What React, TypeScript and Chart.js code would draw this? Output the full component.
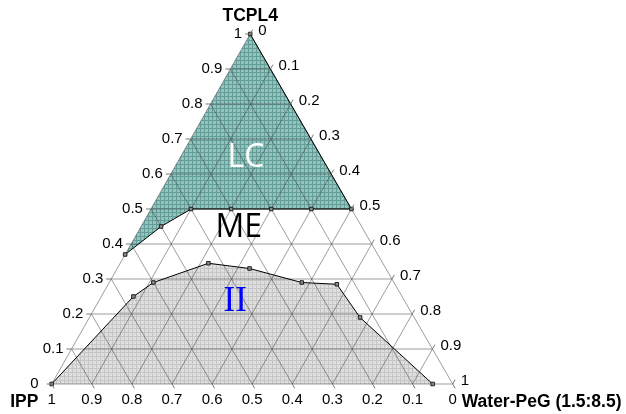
import React, { useEffect, useRef } from "react";
import { Chart, registerables } from "chart.js";
Chart.register(...registerables);

// Axis scale (fractions) and their labels
const SCALE_VALUES = [0, 0.1, 0.2, 0.3, 0.4, 0.5, 0.6, 0.7, 0.8, 0.9, 1];
const SCALE_LABELS = ["0", "0.1", "0.2", "0.3", "0.4", "0.5", "0.6", "0.7", "0.8", "0.9", "1"];
const GRID_VALUES = [0, 0.1, 0.2, 0.3, 0.4, 0.5, 0.6, 0.7, 0.8, 0.9];

const AXIS_TOP = "TCPL4";
const AXIS_LEFT = "IPP";
const AXIS_RIGHT = "Water-PeG (1.5:8.5)";

// LC phase boundary: TCPL4 fraction / Water-PeG fraction
const LC_TCPL4 = [1, 0.5, 0.5, 0.5, 0.5, 0.5, 0.45, 0.37];
const LC_WATER = [0, 0.5, 0.4, 0.3, 0.2, 0.1, 0.05, 0];

// Two-phase (II) boundary
const II_TCPL4 = [0, 0.25, 0.29, 0.345, 0.33, 0.29, 0.285, 0.19, 0];
const II_WATER = [0, 0.08, 0.11, 0.22, 0.33, 0.48, 0.57, 0.675, 0.95];

const REGION_NAMES = ["LC", "ME", "II"];

// slight skew of the original triangle (apex x offset as fraction of base)
const SKEW = 0.495;
const toXY = (t: number, w: number) => ({ x: w + SKEW * t, y: t });

function makePattern(bg: string, line: string) {
  const c = document.createElement("canvas");
  c.width = 4;
  c.height = 4;
  const g = c.getContext("2d")!;
  g.fillStyle = bg;
  g.fillRect(0, 0, 4, 4);
  g.fillStyle = line;
  g.fillRect(0, 0, 4, 1);
  g.fillRect(0, 0, 1, 4);
  return g.createPattern(c, "repeat");
}

const GRID_COLOR = "rgba(60,60,60,0.5)";

const ternaryPlugin = {
  id: "ternaryDecor",
  afterDraw(chart: any) {
    const ctx = chart.ctx;
    const sx = chart.scales.x;
    const sy = chart.scales.y;
    const px = (t: number, w: number) => ({
      x: sx.getPixelForValue(w + SKEW * t),
      y: sy.getPixelForValue(t),
    });
    ctx.save();
    ctx.strokeStyle = "#777";
    ctx.lineWidth = 1;
    ctx.fillStyle = "#000";
    ctx.font = "15px 'Liberation Sans', Arial, sans-serif";
    const L = 5;
    // left axis: TCPL4
    SCALE_VALUES.forEach((v, i) => {
      const p = px(v, 0);
      ctx.beginPath();
      ctx.moveTo(p.x, p.y);
      ctx.lineTo(p.x - L, p.y);
      ctx.stroke();
      ctx.textAlign = "right";
      ctx.textBaseline = "middle";
      ctx.fillText(SCALE_LABELS[i], p.x - (i === 0 ? 13 : 8), p.y);
    });
    // right axis: Water-PeG
    const rdx = 0.493, rdy = -0.87;
    SCALE_VALUES.forEach((v, i) => {
      const p = px(1 - v, v);
      ctx.beginPath();
      ctx.moveTo(p.x, p.y);
      ctx.lineTo(p.x + L * rdx, p.y + L * rdy);
      ctx.stroke();
      ctx.textAlign = "left";
      ctx.textBaseline = "middle";
      ctx.fillText(SCALE_LABELS[i], p.x + 8, p.y - 3);
    });
    // bottom axis: IPP
    const bdx = 0.501, bdy = 0.866;
    SCALE_VALUES.forEach((v, i) => {
      const p = px(0, 1 - v);
      ctx.beginPath();
      ctx.moveTo(p.x, p.y);
      ctx.lineTo(p.x + L * bdx, p.y + L * bdy);
      ctx.stroke();
      ctx.textAlign = "center";
      ctx.textBaseline = "middle";
      ctx.fillText(SCALE_LABELS[i], p.x, p.y + 16);
    });
    // axis titles
    ctx.font = "bold 17.5px 'Liberation Sans', Arial, sans-serif";
    const top = px(1, 0);
    ctx.textAlign = "center";
    ctx.textBaseline = "middle";
    ctx.fillText(AXIS_TOP, top.x, top.y - 18);
    const bl = px(0, 0);
    ctx.textAlign = "left";
    ctx.textBaseline = "alphabetic";
    ctx.fillText(AXIS_LEFT, bl.x - 41.5, bl.y + 22.5);
    const br = px(0, 1);
    ctx.fillText(AXIS_RIGHT, br.x + 9, br.y + 22.5);

    // region labels
    const lc = px(0.647, 0.164);
    ctx.textAlign = "center";
    ctx.textBaseline = "middle";
    ctx.fillStyle = "#ffffff";
    ctx.font = "32px 'Open Sans', sans-serif";
    ctx.fillText(REGION_NAMES[0], lc.x, lc.y);
    const me = px(0.445, 0.246);
    ctx.fillStyle = "#000000";
    ctx.fillText(REGION_NAMES[1], me.x, me.y);
    const ii = px(0.2334, 0.342);
    ctx.fillStyle = "#0000ff";
    ctx.font = "35px 'Liberation Serif', serif";
    ctx.fillText(REGION_NAMES[2], ii.x, ii.y);
    ctx.restore();
  },
};

export default function App() {
  const ref = useRef<HTMLCanvasElement>(null);
  useEffect(() => {
    const tealPattern = makePattern("rgb(150,193,189)", "rgb(98,158,152)");
    const grayPattern = makePattern("rgb(222,222,222)", "rgb(198,198,198)");

    const lcData = LC_TCPL4.map((t, i) => toXY(t, LC_WATER[i]));
    const iiData = II_TCPL4.map((t, i) => toXY(t, II_WATER[i]));

    const gridSets: any[] = [];
    const addLine = (a: any, b: any) =>
      gridSets.push({
        data: [a, b],
        borderColor: GRID_COLOR,
        borderWidth: 1,
        pointRadius: 0,
        fill: false,
        order: 2,
        clip: false,
      });
    GRID_VALUES.forEach((k) => {
      // constant TCPL4
      addLine(toXY(k, 0), toXY(k, 1 - k));
      // constant Water-PeG
      addLine(toXY(0, k), toXY(1 - k, k));
      // constant IPP
      addLine(toXY(0, 1 - k), toXY(1 - k, 0));
    });

    const chart = new Chart(ref.current!, {
      type: "line",
      data: {
        datasets: [
          {
            data: lcData,
            borderWidth: 0,
            borderColor: "rgba(0,0,0,0)",
            backgroundColor: tealPattern as any,
            fill: "shape",
            pointRadius: 0,
            order: 3,
            clip: false,
          },
          {
            data: iiData,
            borderWidth: 0,
            borderColor: "rgba(0,0,0,0)",
            backgroundColor: grayPattern as any,
            fill: "shape",
            pointRadius: 0,
            order: 3,
            clip: false,
          },
          ...gridSets,
          {
            data: lcData,
            borderColor: "#000",
            borderWidth: 1,
            fill: false,
            pointStyle: "rect",
            pointRadius: 2.5,
            pointBackgroundColor: "#8c8c8c",
            pointBorderColor: "#222",
            pointBorderWidth: 1,
            order: 1,
            clip: false,
          },
          {
            data: iiData,
            borderColor: "#000",
            borderWidth: 1,
            fill: false,
            pointStyle: "rect",
            pointRadius: 2.5,
            pointBackgroundColor: "#8c8c8c",
            pointBorderColor: "#222",
            pointBorderWidth: 1,
            order: 1,
            clip: false,
          },
        ],
      },
      options: {
        responsive: false,
        animation: false,
        layout: { padding: { left: 51.7, right: 173.3, top: 34, bottom: 30 } },
        elements: { line: { tension: 0 } },
        scales: {
          x: { type: "linear", min: 0, max: 1, display: false },
          y: { type: "linear", min: 0, max: 1, display: false },
        },
        plugins: {
          legend: { display: false },
          tooltip: { enabled: false },
          filler: { propagate: false },
        },
      },
      plugins: [ternaryPlugin],
    });
    return () => chart.destroy();
  }, []);
  return (
    <div style={{ position: "fixed", left: 0, top: 0, width: 626, height: 414, background: "#fff" }}>
      <canvas ref={ref} width={626} height={414} />
    </div>
  );
}
